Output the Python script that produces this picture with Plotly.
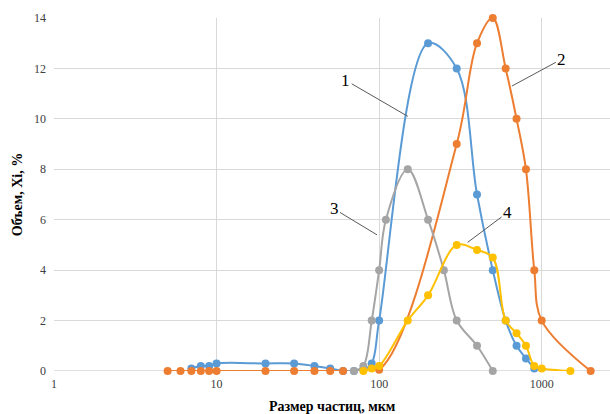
import plotly.graph_objects as go
import math

# Series 1 (blue)
x1 = [7, 8, 9, 10, 20, 30, 40, 50, 60, 70, 80, 90, 100, 200, 300, 400, 500, 600, 700, 800, 900]
y1 = [0.1, 0.2, 0.2, 0.3, 0.3, 0.3, 0.2, 0.1, 0, 0, 0.05, 0.3, 2, 13, 12, 7, 4, 2, 1, 0.5, 0.1]
# Series 2 (orange)
x2 = [5, 6, 7, 8, 9, 10, 20, 30, 40, 50, 60, 100, 300, 400, 500, 600, 700, 800, 900, 1000, 2000]
y2 = [0, 0, 0, 0, 0, 0, 0, 0, 0, 0, 0, 0.05, 9, 13, 14, 12, 10, 8, 4, 2, 0]
# Series 3 (grey)
x3 = [70, 80, 90, 100, 110, 150, 200, 250, 300, 400, 500]
y3 = [0, 0.2, 2, 4, 6, 8, 6, 4, 2, 1, 0]
# Series 4 (yellow)
x4 = [80, 90, 100, 150, 200, 300, 400, 500, 600, 700, 800, 900, 1000, 1500]
y4 = [0, 0.1, 0.2, 2, 3, 5, 4.8, 4.5, 2, 1.5, 1.0, 0.2, 0.1, 0]

y_ticks = [0, 2, 4, 6, 8, 10, 12, 14]
x_ticks = [1, 10, 100, 1000]

series = [
    (x1, y1, "#5B9BD5", "1"),
    (x2, y2, "#ED7D31", "2"),
    (x3, y3, "#A5A5A5", "3"),
    (x4, y4, "#FFC000", "4"),
]

fig = go.Figure()
for xs, ys, col, name in series:
    fig.add_trace(go.Scatter(
        x=xs, y=ys, mode="lines+markers", name=name,
        line=dict(color=col, width=2, shape="spline", smoothing=1.0),
        marker=dict(color=col, size=8),
        showlegend=False, cliponaxis=False,
    ))

serif = "Liberation Serif, Times New Roman, serif"

# curve labels with leader lines: (label, target x, target y, text offset px)
labels = [
    ("1", 150, 10.1, -62, -36),
    ("2", 655, 11.3, 50, -27),
    ("3", 97, 5.4, -43, -26),
    ("4", 350, 5.1, 40, -30),
]
for txt, tx, ty, ax, ay in labels:
    fig.add_annotation(
        x=math.log10(tx), y=ty, xref="x", yref="y", text=txt,
        showarrow=True, arrowhead=0, arrowwidth=1, arrowcolor="#595959",
        ax=ax, ay=ay, font=dict(family=serif, size=17, color="#000000"),
    )

fig.add_annotation(
    x=0.5, y=-0.073, xref="paper", yref="paper", yanchor="top",
    text="<b>Размер частиц, мкм</b>", showarrow=False,
    font=dict(family=serif, size=14, color="#000000"),
)

fig.update_layout(
    width=610, height=414,
    margin=dict(l=54, r=0, t=18, b=43),
    plot_bgcolor="white", paper_bgcolor="white",
    xaxis=dict(
        type="log", range=[0, 3.42],
        tickvals=x_ticks, ticktext=[str(v) for v in x_ticks],
        showgrid=True, gridcolor="#D9D9D9", gridwidth=1,
        zeroline=False, showline=False, ticks="",
        ticklabelstandoff=4,
        tickfont=dict(family=serif, size=12, color="#404040"),
    ),
    yaxis=dict(
        range=[0, 14], tickvals=y_ticks,
        showgrid=True, gridcolor="#D9D9D9", gridwidth=1,
        zeroline=False, showline=False, ticks="",
        ticklabelstandoff=7,
        tickfont=dict(family=serif, size=12, color="#404040"),
        title=dict(text="<b>Объем, Xi, %</b>", standoff=8,
                   font=dict(family=serif, size=14, color="#000000")),
    ),
    shapes=[dict(type="line", xref="paper", yref="y", x0=0, x1=1, y0=0, y1=0,
                 line=dict(color="#BFBFBF", width=1), layer="below")],
)

fig.write_html("out.html", config={"displayModeBar": False},
               post_script="document.body.style.margin='0';")
